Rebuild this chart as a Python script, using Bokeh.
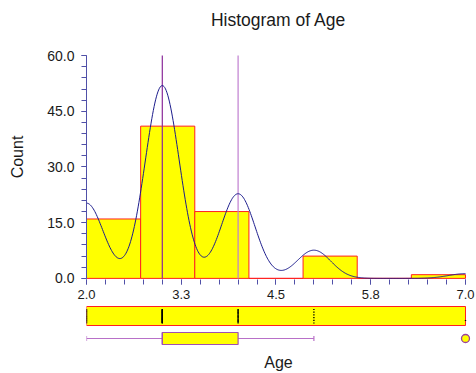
import numpy as np
from bokeh.plotting import figure
from bokeh.layouts import column
from bokeh.models import Range1d, FixedTicker, CustomJSTickFormatter, Title
from bokeh.embed import file_html
from bokeh.resources import INLINE

# ---- data ----
ages = [2, 3, 4, 5, 7]          # distinct Age values
freq = [16, 41, 18, 6, 1]       # how many observations at each value
n_bins = 7
x_ticks = [2.0, 3.25, 4.5, 5.75, 7.0]
x_tick_labels = ["2.0", "3.3", "4.5", "5.8", "7.0"]
x_minor_step = 0.25
y_ticks = [0, 15, 30, 45, 60]
y_tick_labels = ["0.0", "15.0", "30.0", "45.0", "60.0"]
y_minor_step = 3
kde_bandwidth = 0.225

# ---- derived statistics ----
data = np.repeat(ages, freq).astype(float)
lo, hi = data.min(), data.max()
counts, edges = np.histogram(data, bins=n_bins, range=(lo, hi))
bin_w = edges[1] - edges[0]
xs = np.linspace(lo, hi, 500)
dens = np.zeros_like(xs)
for a, f in zip(ages, freq):
    dens += f * np.exp(-0.5 * ((xs - a) / kde_bandwidth) ** 2)
dens *= bin_w / (kde_bandwidth * np.sqrt(2 * np.pi))
q1, med, q3 = np.percentile(data, [25, 50, 75])
iqr = q3 - q1
w_lo = data[data >= q1 - 1.5 * iqr].min()
w_hi = data[data <= q3 + 1.5 * iqr].max()
outliers = sorted(set(data[(data < w_lo) | (data > w_hi)]))

FONT = "Liberation Sans"
TXT = "#1a1a1a"
AX = "#5050a8"
YELLOW = "#ffff00"
RED = "#ff2020"

x_range = Range1d(lo, hi + 0.066)
y_top = max(y_ticks)

p1 = figure(width=476, height=305, x_range=x_range, y_range=Range1d(-0.3, y_top + 5.68),
            output_backend="svg", toolbar_location=None,
            min_border_left=86, min_border_right=6, min_border_top=34, min_border_bottom=26)
p1.outline_line_color = None
p1.grid.visible = False
p1.background_fill_color = "white"
p1.border_fill_color = "white"

p1.title.text = "Histogram of Age"
p1.title.align = "center"
p1.title.text_font = FONT
p1.title.text_font_size = "17.5px"
p1.title.text_font_style = "normal"
p1.title.text_color = TXT
p1.title.offset = -3
p1.title.standoff = 10

p1.quad(left=edges[:-1], right=edges[1:], bottom=0, top=counts,
        fill_color=YELLOW, line_color=RED, line_width=1)
p1.segment(x0=[med], y0=[0], x1=[med], y1=[y_top], line_color="#8a2a9a", line_width=1.2)
p1.segment(x0=[q3], y0=[0], x1=[q3], y1=[y_top], line_color="#c07fd0", line_width=1.2)
p1.line(xs, dens, line_color="#1c1c8c", line_width=1)

fmt = CustomJSTickFormatter(code="return tick.toFixed(1);")
xa = p1.xaxis[0]
xa.ticker = FixedTicker(ticks=x_ticks, minor_ticks=list(np.arange(lo, hi + 1e-9, x_minor_step)))
xa.formatter = fmt
xa.major_label_overrides = {t: s for t, s in zip(x_ticks, x_tick_labels)}
xa.bounds = (lo, hi)
xa.axis_line_color = None

ya = p1.yaxis[0]
ya.ticker = FixedTicker(ticks=y_ticks, minor_ticks=list(range(0, y_top + 1, y_minor_step)))
ya.formatter = fmt
ya.major_label_overrides = {t: s for t, s in zip(y_ticks, y_tick_labels)}
ya.bounds = (0, y_top)
ya.axis_line_color = AX
ya.axis_label = "Count"
ya.axis_label_standoff = 18

for ax in (xa, ya):
    ax.major_tick_in = 0
    ax.major_tick_out = 5
    ax.minor_tick_in = 0
    ax.minor_tick_out = 5
    ax.major_tick_line_color = AX
    ax.minor_tick_line_color = AX
    ax.major_label_text_font = FONT
    ax.major_label_text_color = TXT
    ax.axis_label_text_font = FONT
    ax.axis_label_text_font_size = "16px"
    ax.axis_label_text_font_style = "normal"
    ax.axis_label_text_color = TXT
xa.major_label_text_font_size = "13px"
ya.major_label_text_font_size = "14px"
ya.major_label_standoff = 7

# ---- lower panel: dot strip + box plot ----
p2 = figure(width=476, height=68, x_range=x_range, y_range=Range1d(0, 45),
            x_axis_location=None, y_axis_location=None,
            output_backend="svg", toolbar_location=None,
            min_border_left=86, min_border_right=6, min_border_top=0, min_border_bottom=23)
p2.outline_line_color = None
p2.grid.visible = False
p2.background_fill_color = "white"
p2.border_fill_color = "white"

# strip
p2.quad(left=[lo], right=[hi], bottom=[25], top=[44], fill_color=YELLOW, line_color=RED, line_width=1)
dx, dy = [], []
for a, f in zip(ages, freq):
    ys = np.linspace(27.5, 41, f) if f > 1 else np.array([30.0])
    dx += [a] * f
    dy += list(ys)
p2.rect(x=dx, y=dy, width=1.4, height=1.2, width_units="screen", height_units="screen",
        fill_color="black", line_color=None)

# box plot
BOXC = "#a050b0"
WHC = "#b870c8"
p2.segment(x0=[w_lo, q3], y0=[12, 12], x1=[q1, w_hi], y1=[12, 12], line_color=WHC, line_width=1.2)
p2.segment(x0=[w_lo, w_hi], y0=[9.5, 9.5], x1=[w_lo, w_hi], y1=[14.5, 14.5], line_color=WHC, line_width=1.2)
p2.quad(left=[q1], right=[q3], bottom=[6], top=[18], fill_color=YELLOW, line_color=BOXC, line_width=1.2)
p2.segment(x0=[med], y0=[6], x1=[med], y1=[18], line_color=BOXC, line_width=1.2)
p2.scatter(x=outliers, y=[12] * len(outliers), size=8, fill_color=YELLOW, line_color="#9a40a0", line_width=1.3)

p2.add_layout(Title(text="Age", align="center", text_font=FONT, text_font_size="16px",
                    text_font_style="normal", text_color=TXT, offset=-2, standoff=2), "below")

layout = column(p1, p2, spacing=0)
open("out.html", "w").write(file_html(layout, INLINE))
